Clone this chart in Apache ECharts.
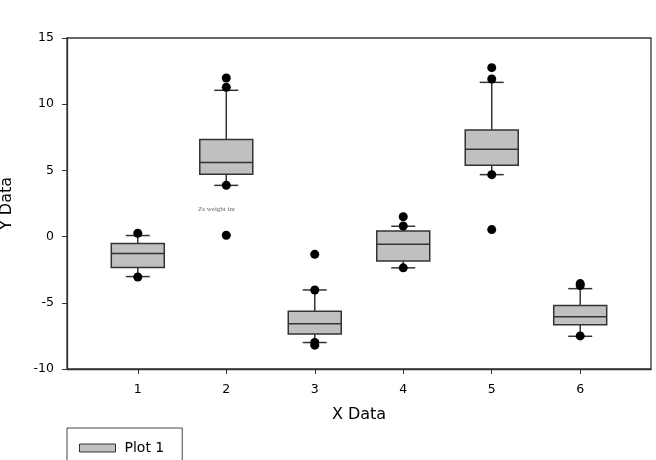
<!DOCTYPE html>
<html><head><meta charset="utf-8">
<script src="https://cdn.jsdelivr.net/npm/echarts@6/dist/echarts.min.js"></script>
<style>html,body{margin:0;padding:0;background:#fff}#c{width:656px;height:460px}</style>
</head><body><div id="c"></div>
<script>
// Data
const groups = [1, 2, 3, 4, 5, 6];
const xTicks = [1, 2, 3, 4, 5, 6];
const yTicks = [-10, -5, 0, 5, 10, 15];
const lowerWhisker = [-3.02, 3.87, -8.0, -2.36, 4.68, -7.53];
const q1 = [-2.34, 4.71, -7.35, -1.84, 5.39, -6.65];
const median = [-1.28, 5.59, -6.59, -0.58, 6.59, -6.06];
const q3 = [-0.53, 7.33, -5.64, 0.43, 8.06, -5.21];
const upperWhisker = [0.08, 11.05, -4.03, 0.78, 11.65, -3.93];
const outlierGroup = [1, 1, 2, 2, 2, 2, 3, 3, 3, 3, 4, 4, 4, 5, 5, 5, 5, 6, 6, 6];
const outlierValue = [0.25, -3.05, 11.98, 11.28, 3.87, 0.1, -4.03, -1.34, -8.0, -8.2, 1.5, 0.8, -2.36, 12.76, 11.9, 4.68, 0.53, -3.55, -3.7, -7.5];

const boxData = groups.map((g, i) => [g, lowerWhisker[i], q1[i], median[i], q3[i], upperWhisker[i]]);
const outData = outlierGroup.map((g, i) => [g, outlierValue[i]]);

const chart = echarts.init(document.getElementById('c'));
const font = '"DejaVu Sans", sans-serif';
const BOX_W = 53, CAP_W = 24;

chart.setOption({
  animation: false,
  grid: { left: 67, right: 5, top: 38, bottom: 91, show: true, borderColor: '#333', borderWidth: 1.3,
          containLabel: false, outerBoundsMode: 'none' },
  xAxis: {
    type: 'value', min: 0.2, max: 6.8,
    name: 'X Data', nameLocation: 'middle', nameGap: 38,
    nameTextStyle: { fontFamily: font, fontSize: 16, color: '#000' },
    splitLine: { show: false },
    axisLine: { show: true, onZero: false, lineStyle: { color: '#333', width: 1.3 } },
    axisTick: { show: true, customValues: xTicks, length: 5, lineStyle: { color: '#333' } },
    axisLabel: { customValues: xTicks, fontFamily: font, fontSize: 12.5, color: '#000', margin: 14 }
  },
  yAxis: {
    type: 'value', min: -10, max: 15, interval: 5,
    name: 'Y Data', nameLocation: 'middle', nameGap: 52,
    nameTextStyle: { fontFamily: font, fontSize: 16, color: '#000' },
    splitLine: { show: false },
    axisLine: { show: true, onZero: false, lineStyle: { color: '#333', width: 1.3 } },
    axisTick: { show: true, length: 5, lineStyle: { color: '#333' } },
    axisLabel: { fontFamily: font, fontSize: 12.5, color: '#000', margin: 13,
      formatter: v => yTicks.includes(v) ? String(v) : '' }
  },
  legend: {
    left: 67, top: 428, orient: 'vertical',
    data: [{ name: 'Plot 1', icon: 'rect' }],
    itemWidth: 36, itemHeight: 8, itemGap: 5,
    padding: [13, 18, 20, 12],
    borderColor: '#444', borderWidth: 1,
    itemStyle: { borderWidth: 1, borderColor: '#333' },
    textStyle: { fontFamily: font, fontSize: 14, color: '#000', padding: [0, 0, 0, 4] }
  },
  graphic: [{
    type: 'text', left: 198, top: 206,
    style: { text: 'Zs weight int', font: '7px "Liberation Serif", "DejaVu Serif", serif', fill: '#666' }
  }],
  series: [
    {
      name: 'Plot 1', type: 'custom',
      itemStyle: { color: '#c0c0c0', borderColor: '#333', borderWidth: 1 },
      data: boxData,
      encode: { x: 0, y: [1, 2, 3, 4, 5] },
      renderItem: function (params, api) {
        const x = api.value(0);
        const pLow = api.coord([x, api.value(1)]);
        const pQ1 = api.coord([x, api.value(2)]);
        const pMed = api.coord([x, api.value(3)]);
        const pQ3 = api.coord([x, api.value(4)]);
        const pHigh = api.coord([x, api.value(5)]);
        const cx = pMed[0];
        const ls = { stroke: '#333', lineWidth: 1.5 };
        return {
          type: 'group',
          children: [
            { type: 'line', shape: { x1: cx, y1: pQ3[1], x2: cx, y2: pHigh[1] }, style: ls },
            { type: 'line', shape: { x1: cx, y1: pQ1[1], x2: cx, y2: pLow[1] }, style: ls },
            { type: 'line', shape: { x1: cx - CAP_W / 2, y1: pHigh[1], x2: cx + CAP_W / 2, y2: pHigh[1] }, style: ls },
            { type: 'line', shape: { x1: cx - CAP_W / 2, y1: pLow[1], x2: cx + CAP_W / 2, y2: pLow[1] }, style: ls },
            { type: 'rect', shape: { x: cx - BOX_W / 2, y: pQ3[1], width: BOX_W, height: pQ1[1] - pQ3[1] },
              style: { fill: '#c0c0c0', stroke: '#333', lineWidth: 1.5 } },
            { type: 'line', shape: { x1: cx - BOX_W / 2, y1: pMed[1], x2: cx + BOX_W / 2, y2: pMed[1] }, style: ls }
          ]
        };
      }
    },
    {
      name: 'outliers', type: 'scatter', data: outData,
      symbol: 'circle', symbolSize: 9,
      itemStyle: { color: '#000', opacity: 1 }, z: 5
    }
  ]
});
</script>
</body></html>
